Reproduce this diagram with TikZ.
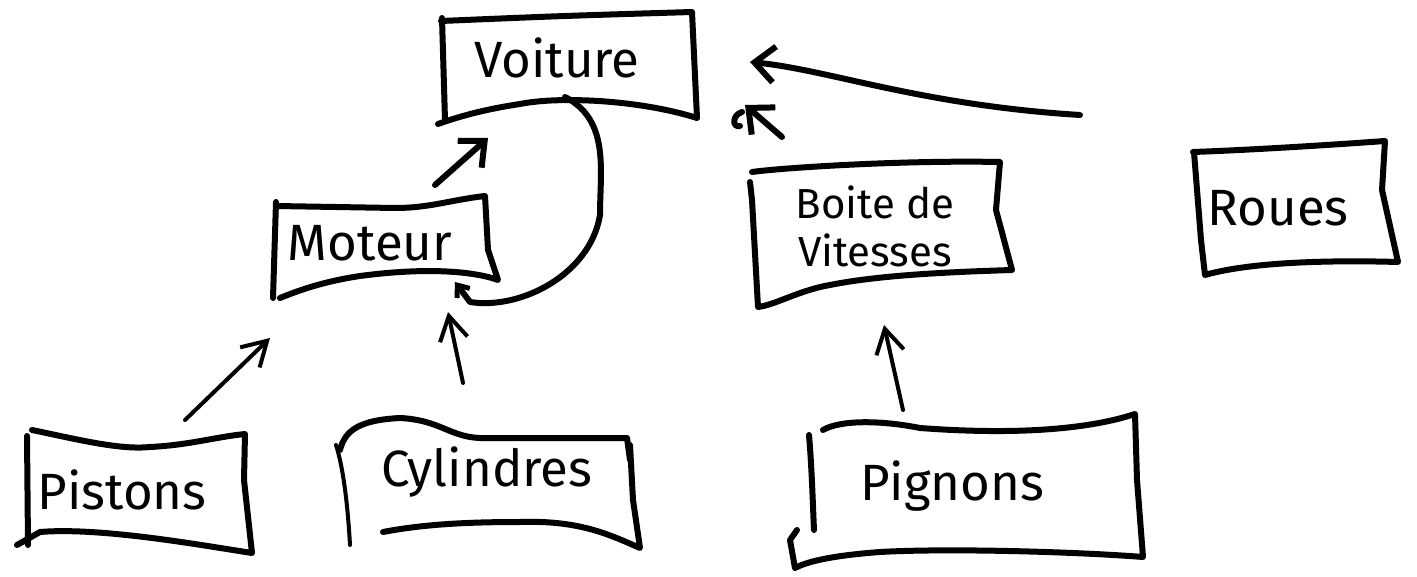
\documentclass[tikz,border=0pt]{standalone}
\usepackage{fontspec}
\setmainfont{Fira Sans}
\usetikzlibrary{arrows.meta}
\begin{document}
\begin{tikzpicture}[x=1pt,y=-1pt,
  pen/.style={line width=6pt,line cap=round,line join=round},
  thinpen/.style={line width=4pt,line cap=round,line join=round},
  arr/.style={pen,-{Straight Barb[length=20pt,width=36pt,line width=6pt]}},
  thinarr/.style={thinpen,-{Straight Barb[length=24pt,width=28pt,line width=4pt]}},
  lbl/.style={inner sep=0pt,font=\fontsize{51}{56}\selectfont},
  slot/.style={rectangle,draw=none,inner sep=0pt}]
\useasboundingbox (0,0) rectangle (1417,577);

% invisible frames for each part, used to attach the connectors
\node[slot,minimum width=257pt,minimum height=115pt] (voiture) at (567,67) {};
\node[slot,minimum width=226pt,minimum height=100pt] (moteur) at (385,247) {};
\node[slot,minimum width=265pt,minimum height=145pt] (boite) at (880,234) {};
\node[slot,minimum width=213pt,minimum height=132pt] (roues) at (1298,208) {};
\node[slot,minimum width=235pt,minimum height=125pt] (pistons) at (135,492) {};
\node[slot,minimum width=305pt,minimum height=125pt] (cylindres) at (487,485) {};
\node[slot,minimum width=355pt,minimum height=145pt] (pignons) at (965,492) {};

% labels
\node[lbl] (tvoiture) at (557,58) {Voiture};
\node[lbl] (tmoteur) at (370,243) {Moteur};
\node[lbl,align=center,font=\fontsize{42}{48}\selectfont] (tboite) at (875,226) {Boite de\\Vitesses};
\node[lbl] (troues) at (1278,208) {Roues};
\node[lbl] (tpistons) at (122,490) {Pistons};
\node[lbl] (tcylindres) at (487,472) {Cylindres};
\node[lbl] (tpignons) at (952,486) {Pignons};

% hand-drawn outlines
\draw[pen] (442,18) -- (445,120) (441,21) .. controls (560,16) .. (692,12) -- (697,118)
  (697,118) .. controls (640,100) and (560,96) .. (520,104) .. controls (480,110) and (455,118) .. (438,124);
\draw[pen] (276,202) -- (273,298) (276,206) -- (395,208) .. controls (430,208) and (450,200) .. (485,196)
  -- (488,250) -- (498,280) .. controls (470,270) and (420,268) .. (360,276) .. controls (320,282) and (295,292) .. (280,298);
\draw[pen] (752,172) .. controls (780,168) and (900,160) .. (1000,162) -- (996,210) -- (1012,270)
  .. controls (950,272) and (880,275) .. (830,285) .. controls (800,290) and (775,305) .. (758,307) -- (752,200) -- (750,182);
\draw[pen] (1193,152) .. controls (1250,150) and (1330,145) .. (1385,141) -- (1382,190) -- (1398,262)
  .. controls (1330,260) and (1250,262) .. (1205,275) -- (1201,240) -- (1194,152);
\draw[pen] (27,436) -- (28,545) (32,430) .. controls (80,440) and (120,450) .. (150,447)
  .. controls (190,445) and (215,437) .. (245,434) -- (244,480) -- (252,553)
  .. controls (200,545) and (100,527) .. (40,532) -- (17,545);
\draw[pen] (340,450) .. controls (345,430) and (360,420) .. (400,418)
  .. controls (440,420) and (450,437) .. (480,438) -- (627,438) -- (630,460)
  (630,445) -- (633,500) -- (640,548)
  .. controls (610,535) and (580,520) .. (520,522) .. controls (460,522) and (420,525) .. (383,532);
\draw[thinpen] (336,445) .. controls (344,470) and (348,510) .. (350,545);
\draw[pen] (809,435) .. controls (812,470) and (813,510) .. (814,530);
\draw[pen] (823,430) .. controls (840,420) and (880,420) .. (920,428) .. controls (1000,434) and (1080,432) .. (1135,414)
  -- (1137,480) -- (1143,557) .. controls (1080,552) and (950,548) .. (880,552) .. controls (840,555) and (810,560) .. (795,568)
  (795,568) -- (790,540) -- (797,530);

% connectors
\draw[arr] ([shift={(50,-62)}]moteur.center) -- ([shift={(-79,71)}]voiture.center);
\draw[thinarr] ([shift={(50,-72)}]pistons.center) -- ([shift={(-115,91)}]moteur.center);
\draw[thinarr] ([shift={(-24,-102)}]cylindres.center) -- ([shift={(63,65)}]moteur.center);
\draw[thinarr] ([shift={(-62,-82)}]pignons.center) -- ([shift={(4,91)}]boite.center);
\draw[arr] ([shift={(-98,-97)}]boite.center) -- ([shift={(178,38)}]voiture.center);
\draw[pen] (742,112) .. controls (732,115) and (732,128) .. (740,126);
\draw[arr] ([shift={(-218,-93)}]roues.center) .. controls (920,105) and (830,70) .. ([shift={(183,-5)}]voiture.center);
\draw[pen,-{Straight Barb[length=10pt,width=16pt,line width=5pt]}] ([shift={(-2,30)}]voiture.center)
  .. controls (610,120) and (600,170) .. (600,215)
  .. controls (590,275) and (520,310) .. (470,302)
  -- ([shift={(70,35)}]moteur.center);
\end{tikzpicture}
\end{document}
